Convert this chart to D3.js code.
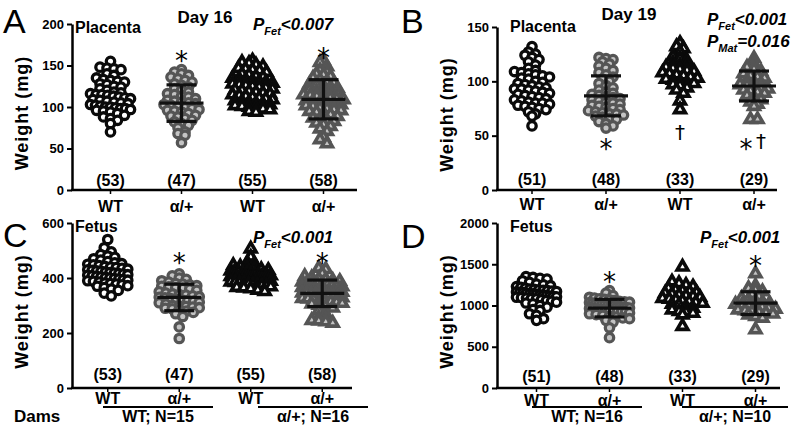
<!DOCTYPE html>
<html><head><meta charset="utf-8">
<script src="https://cdn.jsdelivr.net/npm/d3@7"></script>
<style>
html,body{margin:0;padding:0;background:#fff;}
svg{display:block;font-family:"Liberation Sans",Arial,sans-serif;}
</style></head><body>
<svg id="chart" width="796" height="429"></svg>
<script>
// ---------- categories & ticks ----------
const categories = ["WT", "α/+", "WT", "α/+"];
const ticksA = [0, 50, 100, 150, 200];
const ticksB = [0, 50, 100, 150];
const ticksC = [0, 200, 400, 600];
const ticksD = [0, 500, 1000, 1500, 2000];

// ---------- Panel A: Day 16 placenta weight (mg) ----------
const placentaD16_WT_WTdam = [155,148,147,146,145,140,138,135,133,132,131,130,128,127,125,124,122,120,118,117,116,115,115,114,113,112,111,110,109,108,107,106,105,104,103,102,101,100,100,99,98,98,97,96,95,94,92,90,88,86,84,80,70];
const placentaD16_Het_WTdam = [145,142,140,138,136,134,132,130,128,126,124,122,120,118,116,115,113,112,110,108,107,106,105,104,103,102,100,99,98,97,96,95,94,92,90,89,88,86,84,82,80,78,75,70,68,66,57];
const placentaD16_WT_Hetdam = [157,155,154,152,150,148,147,146,145,143,141,140,138,137,136,135,134,133,132,131,130,129,128,127,126,125,124,123,122,121,120,119,118,117,116,115,114,113,112,111,110,109,108,107,106,105,104,103,102,101,100,99,98,96,95];
const placentaD16_Het_Hetdam = [157,155,150,145,143,141,140,138,136,134,132,130,129,128,126,125,124,122,120,119,118,117,116,115,114,113,112,111,110,109,108,107,106,105,104,103,102,100,99,98,97,96,95,94,92,90,88,86,85,84,82,80,78,75,72,65,62,57];

// ---------- Panel B: Day 19 placenta weight (mg) ----------
const placentaD19_WT_WTdam = [132,127,125,124,122,120,118,115,112,110,109,108,107,106,105,104,103,102,100,99,98,97,96,95,94,93,93,92,91,90,89,88,87,86,85,84,83,82,81,80,80,79,78,77,76,75,74,72,70,68,59];
const placentaD19_Het_WTdam = [122,121,120,118,116,114,112,110,108,106,104,102,100,98,96,94,92,90,89,88,87,86,85,84,83,82,81,80,79,78,77,76,75,74,73,72,71,70,70,69,68,67,66,65,63,61,59,57];
const placentaD19_WT_Hetdam = [136,133,131,128,124,122,120,118,116,115,114,113,112,111,110,109,108,107,106,105,104,103,102,101,100,99,98,97,95,93,90,83,75];
const placentaD19_Het_Hetdam = [122,117,114,112,110,108,106,105,104,102,100,99,98,97,96,95,94,93,92,91,90,88,86,84,82,80,78,66,66];

// ---------- Panel C: Day 16 fetal weight (mg) ----------
const fetusD16_WT_WTdam = [540,510,495,485,480,475,470,465,460,455,452,450,448,445,442,440,438,435,432,430,428,426,424,422,420,418,416,414,412,410,408,406,404,402,400,398,396,394,392,390,388,385,382,380,378,375,372,370,365,360,355,345,335];
const fetusD16_Het_WTdam = [415,408,400,395,390,385,380,378,375,372,370,368,365,362,360,355,350,345,342,340,338,335,332,330,328,325,322,320,318,315,312,310,305,300,298,296,294,292,290,288,285,280,275,270,260,222,180];
const fetusD16_WT_Hetdam = [510,480,460,455,450,445,440,437,435,432,430,428,426,424,422,420,418,416,415,414,412,410,409,408,407,406,405,404,403,402,401,400,399,398,397,396,395,394,393,392,390,388,386,384,382,380,378,376,374,372,370,368,365,360,355];
const fetusD16_Het_Hetdam = [440,435,420,410,405,400,398,395,392,390,388,385,382,380,378,376,374,372,370,368,366,364,362,360,358,356,354,352,350,348,346,344,342,340,338,336,334,332,330,328,325,322,320,318,315,312,310,305,300,295,285,272,260,255,250,248,245,240];

// ---------- Panel D: Day 19 fetal weight (mg) ----------
const fetusD19_WT_WTdam = [1350,1340,1330,1320,1300,1280,1260,1250,1240,1230,1220,1210,1200,1195,1190,1185,1180,1175,1170,1165,1160,1155,1150,1145,1140,1135,1130,1125,1120,1115,1110,1105,1100,1095,1090,1085,1080,1070,1060,1050,1040,1030,1020,1000,980,950,940,900,880,840,820];
const fetusD19_Het_WTdam = [1180,1150,1120,1100,1090,1080,1075,1070,1060,1050,1045,1040,1035,1030,1025,1020,1015,1010,1005,1000,995,990,985,980,975,970,965,960,955,950,945,940,935,930,925,920,910,900,890,880,870,860,850,840,820,800,730,610];
const fetusD19_WT_Hetdam = [1480,1300,1280,1260,1240,1220,1200,1190,1180,1170,1160,1150,1140,1130,1120,1110,1100,1090,1080,1070,1060,1050,1040,1030,1020,1000,980,960,940,930,920,900,760];
const fetusD19_Het_Hetdam = [1400,1250,1220,1200,1180,1150,1120,1100,1080,1060,1050,1040,1030,1020,1010,1000,990,980,970,960,950,940,930,920,910,900,880,860,720];

// ---------- text content ----------
const damLabelsC = ["WT; N=15", "α/+; N=16"];
const damLabelsD = ["WT; N=16", "α/+; N=10"];

// ---------- layout ----------
const panels = [
  { letter:"A", lx:3, ly:33, groups:[placentaD16_WT_WTdam,placentaD16_Het_WTdam,placentaD16_WT_Hetdam,placentaD16_Het_Hetdam],
    ticks:ticksA, ymax:200, ax:72, yTop:24, yBot:190, xr:[75,359], xEnd:357,
    title:{t:"Placenta",x:75,y:33}, day:{t:"Day 16",x:205,y:23},
    pv:[{sub:"Fet",rest:"<0.007",x:253,y:30}],
    marks:[{t:"*",i:1,top:50},{t:"*",i:3,top:47}],
    countY:186, labelY:212, dams:null },
  { letter:"B", lx:401, ly:33, groups:[placentaD19_WT_WTdam,placentaD19_Het_WTdam,placentaD19_WT_Hetdam,placentaD19_Het_Hetdam],
    ticks:ticksB, ymax:150, ax:497, yTop:27, yBot:190, xr:[495,791], xEnd:777,
    title:{t:"Placenta",x:510,y:32}, day:{t:"Day 19",x:629,y:20},
    pv:[{sub:"Fet",rest:"<0.001",x:707,y:25},{sub:"Mat",rest:"=0.016",x:707,y:47}],
    marks:[{t:"*",i:1,top:138},{t:"†",i:2,top:124},{t:"*",i:3,top:138,dx:-8},{t:"†",i:3,top:133,dx:7}],
    countY:185, labelY:210, dams:null },
  { letter:"C", lx:3, ly:247, groups:[fetusD16_WT_WTdam,fetusD16_Het_WTdam,fetusD16_WT_Hetdam,fetusD16_Het_Hetdam],
    ticks:ticksC, ymax:600, ax:72, yTop:223, yBot:388, xr:[72,358], xEnd:352,
    title:{t:"Fetus",x:75,y:232}, day:null,
    pv:[{sub:"Fet",rest:"<0.001",x:253,y:243}],
    marks:[{t:"*",i:1,top:252},{t:"*",i:3,top:252}],
    countY:380, labelY:404,
    dams:{labels:damLabelsC, lines:[[103,213],[258,368]], lineY:407, textY:422, textX:[158,313], showDams:true} },
  { letter:"D", lx:401, ly:248, groups:[fetusD19_WT_WTdam,fetusD19_Het_WTdam,fetusD19_WT_Hetdam,fetusD19_Het_Hetdam],
    ticks:ticksD, ymax:2000, ax:497, yTop:223, yBot:388, xr:[500,792], xEnd:780,
    title:{t:"Fetus",x:510,y:232}, day:null,
    pv:[{sub:"Fet",rest:"<0.001",x:700,y:243}],
    marks:[{t:"*",i:1,top:271},{t:"*",i:3,top:255}],
    countY:382, labelY:406,
    dams:{labels:damLabelsD, lines:[[532,642],[682,788]], lineY:407, textY:422, textX:[587,735], showDams:false} }
];

const svg = d3.select("#chart");

function swarm(vals, y, c, h, s, maxW){
  const pts = vals.map(v => ({v, py:y(v)})).sort((a,b) => a.py - b.py);
  const bins = d3.groups(pts, d => Math.floor(d.py / h));
  bins.forEach(([k, arr]) => {
    const n = arr.length;
    const sp = n > 1 ? Math.min(s, maxW / (n - 1)) : 0;
    arr.forEach((d, i) => d.px = c + (i - (n - 1) / 2) * sp);
  });
  return pts;
}

function drawPanel(p){
  const g = svg.append("g");
  const y = d3.scaleLinear().domain([0, p.ymax]).range([p.yBot, p.yTop]);
  const x = d3.scaleBand().domain(d3.range(4)).range(p.xr);
  const cx = i => x(i) + x.bandwidth() / 2;

  // panel letter
  g.append("text").attr("x", p.lx).attr("y", p.ly).attr("font-size", 34).text(p.letter);

  // y axis
  const ya = g.append("g").attr("transform", `translate(${p.ax},0)`)
    .call(d3.axisLeft(y).tickValues(p.ticks).tickFormat(d3.format("d")).tickSize(5).tickSizeOuter(0).tickPadding(3));
  ya.select(".domain").attr("stroke", "#000").attr("stroke-width", 2.5);
  ya.selectAll(".tick line").attr("stroke", "#000").attr("stroke-width", 2);
  ya.selectAll(".tick text").attr("font-size", 13).attr("font-weight", "bold").attr("fill", "#000")
    .attr("font-family", '"Liberation Sans",Arial,sans-serif');

  // y label
  g.append("text").attr("transform", `translate(${p.ax - 44},${(p.yTop + p.yBot) / 2 + 6}) rotate(-90)`)
    .attr("text-anchor", "middle").attr("font-size", 18).attr("font-weight", "bold")
    .attr("letter-spacing", 1).text("Weight (mg)");

  // x axis
  g.append("line").attr("x1", p.ax - 1).attr("x2", p.xEnd).attr("y1", y(0)).attr("y2", y(0))
    .attr("stroke", "#000").attr("stroke-width", 2.5);
  g.selectAll(".xt").data(d3.range(4)).join("line")
    .attr("x1", cx).attr("x2", cx).attr("y1", y(0)).attr("y2", y(0) + 4)
    .attr("stroke", "#000").attr("stroke-width", 1.5);

  // points
  const tri = d3.symbol(d3.symbolTriangle, 50)();
  p.groups.forEach((vals, i) => {
    const pts = swarm(vals, y, cx(i), 5.5, 7, 40);
    const het = i % 2 === 1;
    const stroke = het ? "#555" : "#0a0a0a";
    const fill = het ? "#c4c4c4" : "#fff";
    if (i < 2) {
      g.append("g").selectAll("circle").data(pts).join("circle")
        .attr("cx", d => d.px).attr("cy", d => d.py).attr("r", 4.2)
        .attr("fill", fill).attr("stroke", stroke).attr("stroke-width", 3.3);
    } else {
      g.append("g").selectAll("path").data(pts).join("path")
        .attr("d", tri).attr("transform", d => `translate(${d.px},${d.py + 1})`)
        .attr("fill", fill).attr("stroke", stroke).attr("stroke-width", 3.6).attr("stroke-linejoin", "miter");
    }
    if (het) {
      const m = d3.mean(vals), sd = d3.deviation(vals);
      const eb = g.append("g").attr("stroke", "#111").attr("stroke-width", 3.2);
      eb.append("line").attr("x1", cx(i) - 22).attr("x2", cx(i) + 22).attr("y1", y(m)).attr("y2", y(m));
      eb.append("line").attr("x1", cx(i)).attr("x2", cx(i)).attr("y1", y(m - sd)).attr("y2", y(m + sd));
      eb.append("line").attr("x1", cx(i) - 15).attr("x2", cx(i) + 15).attr("y1", y(m - sd)).attr("y2", y(m - sd));
      eb.append("line").attr("x1", cx(i) - 15).attr("x2", cx(i) + 15).attr("y1", y(m + sd)).attr("y2", y(m + sd));
    }
  });

  // counts
  g.selectAll(".cnt").data(p.groups).join("text")
    .attr("x", (d, i) => cx(i)).attr("y", p.countY).attr("text-anchor", "middle")
    .attr("font-size", 16).attr("font-weight", "bold").text(d => `(${d.length})`);

  // category labels
  g.selectAll(".cat").data(categories).join("text")
    .attr("x", (d, i) => cx(i)).attr("y", p.labelY).attr("text-anchor", "middle")
    .attr("font-size", 16).attr("font-weight", "bold").text(d => d);

  // title, day
  g.append("text").attr("x", p.title.x).attr("y", p.title.y).attr("font-size", 16).attr("font-weight", "bold").text(p.title.t);
  if (p.day) g.append("text").attr("x", p.day.x).attr("y", p.day.y).attr("text-anchor", "middle")
    .attr("font-size", 17).attr("font-weight", "bold").text(p.day.t);

  // p values
  p.pv.forEach(q => {
    const t = g.append("text").attr("x", q.x).attr("y", q.y).attr("font-size", 17)
      .attr("font-weight", "bold").attr("font-style", "italic");
    t.append("tspan").text("P");
    t.append("tspan").attr("font-size", 11).attr("dy", 5).text(q.sub);
    t.append("tspan").attr("dy", -5).text(q.rest);
  });

  // significance marks
  p.marks.forEach(mk => {
    const isStar = mk.t === "*";
    g.append("text").attr("x", cx(mk.i) + (mk.dx || 0))
      .attr("y", mk.top + (isStar ? 20 : 15))
      .attr("text-anchor", "middle").attr("font-family", '"DejaVu Sans",sans-serif')
      .attr("font-size", isStar ? 26 : 20).text(mk.t);
  });

  // dams
  if (p.dams) {
    p.dams.lines.forEach(l => g.append("line").attr("x1", l[0]).attr("x2", l[1])
      .attr("y1", p.dams.lineY).attr("y2", p.dams.lineY).attr("stroke", "#000").attr("stroke-width", 2));
    p.dams.labels.forEach((t, j) => g.append("text").attr("x", p.dams.textX[j]).attr("y", p.dams.textY)
      .attr("text-anchor", "middle").attr("font-size", 16).attr("font-weight", "bold").text(t));
    if (p.dams.showDams) g.append("text").attr("x", 14).attr("y", p.dams.textY)
      .attr("font-size", 17).attr("font-weight", "bold").text("Dams");
  }
}

panels.forEach(drawPanel);
</script>
</body></html>
